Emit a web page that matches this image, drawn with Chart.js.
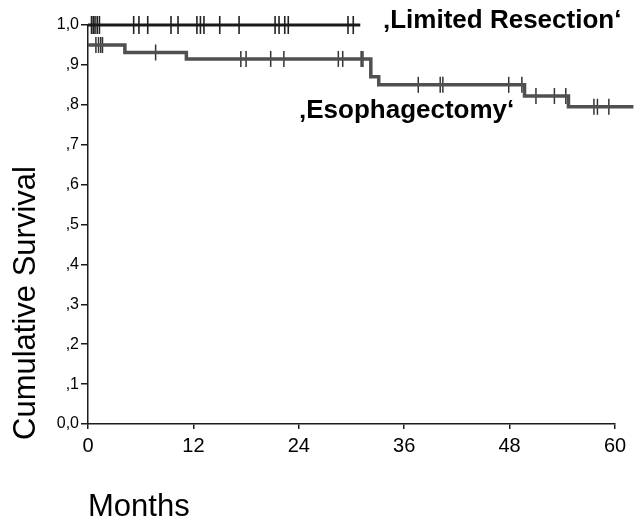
<!DOCTYPE html>
<html>
<head>
<meta charset="utf-8">
<script src="https://cdn.jsdelivr.net/npm/chart.js@4.4.1/dist/chart.umd.min.js"></script>
<style>
  html, body { margin: 0; padding: 0; background: #fff; }
  #wrap { width: 644px; height: 523px; }
</style>
</head>
<body>
<div id="wrap"><canvas id="chart" width="644" height="523"></canvas></div>
<script>
// Kaplan-Meier steps (months / cumulative survival)
var limitedTimes = [0, 31.0]
var limitedSurv = [1.0, 1.0]
var esoTimes = [0, 4.2, 11.2, 32.2, 33.1, 49.7, 54.7, 62.1]
var esoSurv = [0.95, 0.931, 0.915, 0.870, 0.850, 0.822, 0.795, 0.795]

// censored cases (tick marks)
var limitedCensored = [0.4, 0.6, 0.8, 1.05, 1.3, 5.2, 5.8, 6.8, 9.45, 10.25, 12.4, 12.8, 13.2,
    15.0, 17.2, 21.3, 21.75, 22.4, 22.8, 29.6, 30.2]
var esoCensored = [0.9, 1.2, 1.45, 1.65, 7.7, 17.4, 18.0, 20.8, 22.3, 28.5, 29.0, 31.1, 31.3,
    37.6, 40.1, 40.4, 47.9, 49.4, 51.0, 53.1, 54.4, 57.6, 58.0, 59.3]

var xTicks = [0, 12, 24, 36, 48, 60]
var yTicks = [0, 0.1, 0.2, 0.3, 0.4, 0.5, 0.6, 0.7, 0.8, 0.9, 1.0]
var yTickLabels = ['0,0', ',1', ',2', ',3', ',4', ',5', ',6', ',7', ',8', ',9', '1,0']

var groupLabels = ['\u201ALimited Resection\u2018', '\u201AEsophagectomy\u2018']
var yTitle = 'Cumulative Survival'

var fontFamily = '"Liberation Sans", Arial, sans-serif'

function toPoints(xs, ys) {
    return xs.map(function (x, i) { return { x: x, y: ys[i] } })
}

// survival value of a step curve at time t (for placing censor ticks on it)
function survAt(times, surv, t) {
    var s = surv[0]
    for (var i = 0; i < times.length; i++) {
        if (times[i] <= t) { s = surv[i] }
    }
    return s
}

function censorPoints(ts, times, surv) {
    return ts.map(function (t) { return { x: t, y: survAt(times, surv, t) } })
}

// curve labels and the rotated y title (it sits a bit below the plot bottom)
var textPlugin = {
    id: 'texts',
    afterDraw: function (chart) {
        var ctx = chart.ctx
        ctx.save()
        ctx.fillStyle = '#000'
        ctx.font = 'bold 26px ' + fontFamily
        ctx.textAlign = 'left'
        ctx.textBaseline = 'alphabetic'
        ctx.fillText(groupLabels[0], 383, 28)
        ctx.fillText(groupLabels[1], 299, 118)

        ctx.translate(35, 440)
        ctx.rotate(-Math.PI / 2)
        ctx.font = '31px ' + fontFamily
        ctx.fillText(yTitle, 0, 0)
        ctx.restore()
    }
}

var ctx = document.getElementById('chart').getContext('2d')
var lineColor = '#1c1c1c'

var myChart = new Chart(ctx, {
    type: 'line',
    data: {
        datasets: [
            {
                label: 'Limited Resection',
                data: toPoints(limitedTimes, limitedSurv),
                borderColor: '#1a1a1a',
                borderWidth: 3,
                stepped: true,
                pointRadius: 0,
                fill: false,
                clip: false
            },
            {
                label: 'Esophagectomy',
                data: toPoints(esoTimes, esoSurv),
                borderColor: '#505050',
                borderWidth: 3.5,
                stepped: true,
                pointRadius: 0,
                fill: false,
                clip: false
            },
            {
                label: 'Limited censored',
                type: 'scatter',
                data: censorPoints(limitedCensored, limitedTimes, limitedSurv),
                showLine: false,
                pointStyle: 'line',
                rotation: 90,
                pointRadius: 9,
                pointBorderWidth: 1.6,
                pointBorderColor: '#222',
                clip: false
            },
            {
                label: 'Eso censored',
                type: 'scatter',
                data: censorPoints(esoCensored, esoTimes, esoSurv),
                showLine: false,
                pointStyle: 'line',
                rotation: 90,
                pointRadius: 8,
                pointBorderWidth: 1.5,
                pointBorderColor: '#333',
                clip: false
            }
        ]
    },
    options: {
        responsive: false,
        animation: false,
        layout: { padding: { top: 25, right: 29, left: 0, bottom: 0 } },
        plugins: {
            legend: { display: false },
            tooltip: { enabled: false }
        },
        scales: {
            x: {
                type: 'linear',
                min: 0,
                max: 60,
                afterBuildTicks: function (scale) {
                    scale.ticks = xTicks.map(function (v) { return { value: v } })
                },
                afterFit: function (scale) { scale.height = 99 },
                border: { display: true, color: lineColor, width: 1.5 },
                grid: { drawOnChartArea: false, drawTicks: true, tickLength: 5, color: lineColor, lineWidth: 1.5 },
                ticks: {
                    color: '#000',
                    padding: 5,
                    maxRotation: 0,
                    font: { family: fontFamily, size: 20 }
                },
                title: {
                    display: true,
                    text: 'Months',
                    align: 'start',
                    color: '#000',
                    padding: { top: 0, bottom: 0 },
                    font: { family: fontFamily, size: 31, lineHeight: 1.0 }
                }
            },
            y: {
                type: 'linear',
                min: 0,
                max: 1,
                afterBuildTicks: function (scale) {
                    scale.ticks = yTicks.map(function (v) { return { value: v } })
                },
                afterFit: function (scale) { scale.width = 88 },
                border: { display: true, color: lineColor, width: 1.5 },
                grid: { drawOnChartArea: false, drawTicks: true, tickLength: 7, color: lineColor, lineWidth: 1.5 },
                ticks: {
                    color: '#000',
                    padding: 2,
                    font: { family: fontFamily, size: 16 },
                    callback: function (value) {
                        var i = yTicks.findIndex(function (t) { return Math.abs(t - value) < 1e-6 })
                        return i >= 0 ? yTickLabels[i] : ''
                    }
                }
            }
        }
    },
    plugins: [textPlugin]
})
</script>
</body>
</html>
